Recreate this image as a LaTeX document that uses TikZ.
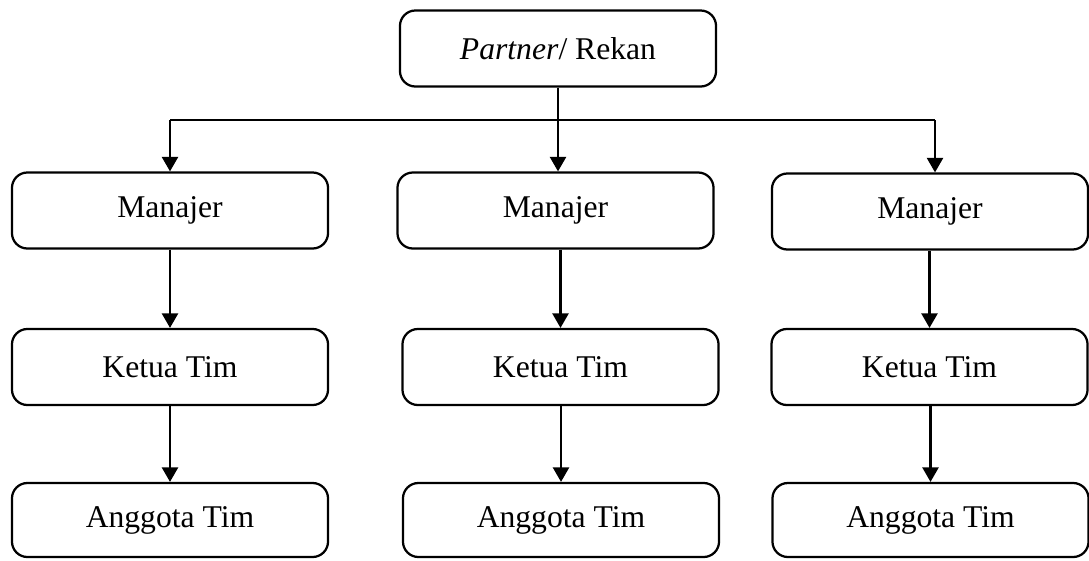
\documentclass[tikz,border=0pt]{standalone}
\usepackage{fontspec}
\setmainfont{Liberation Serif}
\usetikzlibrary{arrows.meta}

\begin{document}
\begin{tikzpicture}[x=0.025cm,y=-0.025cm,
  box/.style={draw,line width=1.6pt,rounded corners=11pt,minimum width=7.9cm,
    minimum height=1.9cm,inner sep=0pt,font=\fontsize{22.5}{27}\selectfont},
  arr/.style={line width=1.5pt,-{Triangle[length=0.36cm,width=0.4cm]}}]
\useasboundingbox (0,0) rectangle (1089,560);
%%% top of the chart
\node[box] (partner) at (558,48.5) {\textit{Partner}/ Rekan};
%%% the three columns
\node[box] (man1) at (170,210.5) {Manajer};
\node[box] (man2) at (555.5,210.5) {Manajer};
\node[box] (man3) at (930,211.5) {Manajer};
%
\node[box] (ket1) at (170,367) {Ketua Tim};
\node[box] (ket2) at (560.5,367) {Ketua Tim};
\node[box] (ket3) at (929.5,367) {Ketua Tim};
%
\node[box,minimum height=1.85cm] (ang1) at (170,520) {Anggota Tim};
\node[box,minimum height=1.85cm] (ang2) at (561,520) {Anggota Tim};
\node[box,minimum height=1.85cm] (ang3) at (930.5,520) {Anggota Tim};
%%% connectors
\coordinate (busL) at (170,120);
\coordinate (busR) at (935,120);
\draw[line width=0.9pt] (busL) -- (busR);
\draw[arr] (partner.south) -- (partner.south |- man2.north);
\draw[arr] (busL) -- (busL |- man1.north);
\draw[arr] (busR) -- (busR |- man3.north);
\foreach \c in {1,2,3}{
  \draw[arr] (ket\c.north |- man\c.south) -- (ket\c.north);
  \draw[arr] (ang\c.north |- ket\c.south) -- (ang\c.north);
}
\end{tikzpicture}
\end{document}
